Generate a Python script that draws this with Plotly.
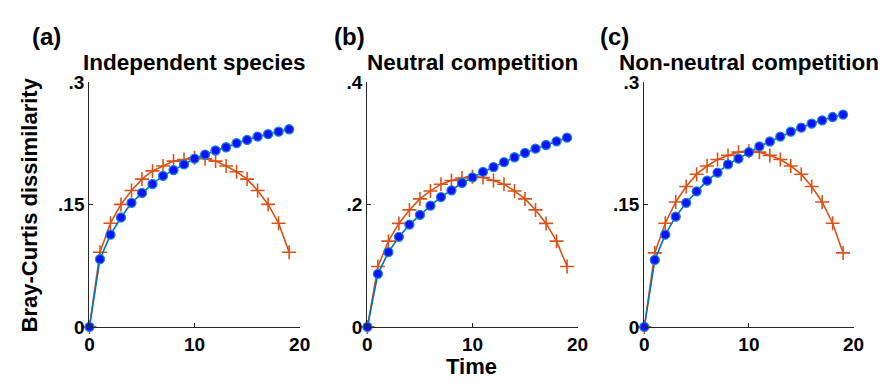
import plotly.graph_objects as go

time = list(range(20))

# Panel (a) Independent species
a_blue = [0, 0.083, 0.113, 0.134, 0.152, 0.164, 0.175, 0.185, 0.192, 0.199, 0.206,
          0.211, 0.216, 0.220, 0.225, 0.229, 0.233, 0.236, 0.239, 0.242]
a_orange = [0, 0.0915, 0.127, 0.150, 0.167, 0.181, 0.191, 0.197, 0.203, 0.205, 0.207,
            0.206, 0.203, 0.197, 0.190, 0.181, 0.167, 0.150, 0.127, 0.0915]

# Panel (b) Neutral competition
b_blue = [0, 0.0867, 0.122, 0.147, 0.167, 0.183, 0.198, 0.212, 0.223, 0.235, 0.244,
          0.253, 0.261, 0.269, 0.277, 0.284, 0.291, 0.297, 0.303, 0.309]
b_orange = [0, 0.0986, 0.140, 0.169, 0.191, 0.209, 0.222, 0.233, 0.239, 0.243, 0.245,
            0.244, 0.239, 0.233, 0.222, 0.209, 0.191, 0.169, 0.140, 0.0986]

# Panel (c) Non-neutral competition
c_blue = [0, 0.082, 0.113, 0.135, 0.152, 0.166, 0.179, 0.189, 0.199, 0.206, 0.214,
          0.221, 0.227, 0.233, 0.239, 0.244, 0.249, 0.253, 0.257, 0.260]
c_orange = [0, 0.0906, 0.127, 0.153, 0.172, 0.187, 0.197, 0.205, 0.210, 0.214, 0.215,
            0.214, 0.210, 0.205, 0.197, 0.187, 0.172, 0.153, 0.127, 0.0906]

titles = ["Independent species", "Neutral competition", "Non-neutral competition"]
labels = ["(a)", "(b)", "(c)"]
y_ranges = [0.3, 0.4, 0.3]
y_ticks = [[0, 0.15, 0.3], [0, 0.2, 0.4], [0, 0.15, 0.3]]
y_ticktext = [["0", ".15", ".3"], ["0", ".2", ".4"], ["0", ".15", ".3"]]
x_ticks = [0, 10, 20]

W, H = 893, 389
FONT = "Liberation Sans, Arial, sans-serif"
BLUE_LINE = "#0072BD"
BLUE_MARK = "#0a14f5"
BLUE_EDGE = "#1a7fd6"
ORANGE = "#D95319"
AX = "#262626"


def px(x):
    return x / W


def py(y):
    return 1 - y / H


x_px = [(86, 300), (369, 583), (651, 864)]
y_bot, y_top = 335, 76
ydom = [py(y_bot), py(y_top)]

fig = go.Figure()
series = [(a_blue, a_orange), (b_blue, b_orange), (c_blue, c_orange)]
for i, (bl, orr) in enumerate(series):
    xa = "x" if i == 0 else f"x{i+1}"
    ya = "y" if i == 0 else f"y{i+1}"
    fig.add_trace(go.Scatter(x=time, y=orr, xaxis=xa, yaxis=ya, mode="lines+markers",
                             line=dict(color=ORANGE, width=1.6),
                             marker=dict(symbol="cross-thin", size=10,
                                         line=dict(color=ORANGE, width=1.6)),
                             cliponaxis=False, showlegend=False, hoverinfo="skip"))
    fig.add_trace(go.Scatter(x=time, y=bl, xaxis=xa, yaxis=ya, mode="lines+markers",
                             line=dict(color=BLUE_LINE, width=1.6),
                             marker=dict(symbol="circle", size=9, color=BLUE_MARK,
                                         line=dict(color=BLUE_EDGE, width=1.3)),
                             cliponaxis=False, showlegend=False, hoverinfo="skip"))

layout = dict(width=W, height=H, margin=dict(l=0, r=0, t=0, b=0),
              paper_bgcolor="white", plot_bgcolor="white",
              font=dict(family=FONT, color="black"))
annotations = []
for i in range(3):
    suf = "" if i == 0 else str(i + 1)
    x0, x1 = x_px[i]
    tf = dict(family=FONT, size=19, color="black", weight="bold")
    layout["xaxis" + suf] = dict(domain=[px(x0), px(x1)], range=[0, 20], tickvals=x_ticks,
                                 showline=True, linecolor=AX, linewidth=1.2,
                                 ticks="inside", ticklen=4, tickcolor=AX, tickwidth=1,
                                 showgrid=False, zeroline=False,
                                 anchor="y" + suf, tickfont=tf)
    layout["yaxis" + suf] = dict(domain=ydom, range=[0, y_ranges[i]], tickvals=y_ticks[i],
                                 ticktext=y_ticktext[i],
                                 showline=True, linecolor=AX, linewidth=1.2,
                                 ticks="inside", ticklen=4, tickcolor=AX, tickwidth=1,
                                 showgrid=False, zeroline=False,
                                 anchor="x" + suf, tickfont=tf)
    cx = (x0 + x1) / 2
    annotations.append(dict(text="<b>%s</b>" % titles[i], x=px(cx), y=py(55),
                            xref="paper", yref="paper", showarrow=False,
                            xanchor="center", yanchor="middle", borderpad=0,
                            font=dict(family=FONT, size=22.5, color="black")))
lab_x = [42, 351, 621]
for i in range(3):
    annotations.append(dict(text="<b>%s</b>" % labels[i], x=px(lab_x[i]), y=py(28),
                            xref="paper", yref="paper", showarrow=False,
                            xanchor="center", yanchor="middle", borderpad=0,
                            font=dict(family=FONT, size=24, color="black")))
annotations.append(dict(text="<b>Bray-Curtis dissimilarity</b>", x=px(25), y=py(206),
                        xref="paper", yref="paper", showarrow=False, textangle=-90,
                        xanchor="center", yanchor="middle",
                        font=dict(family=FONT, size=22, color="black")))
annotations.append(dict(text="<b>Time</b>", x=px(475), y=py(377),
                        xref="paper", yref="paper", showarrow=False,
                        xanchor="center", yanchor="middle",
                        font=dict(family=FONT, size=22, color="black")))
layout["annotations"] = annotations
fig.update_layout(**layout)
fig.write_html("out.html", config={"displayModeBar": False, "staticPlot": True},
               post_script="document.body.style.margin='0';document.body.style.overflow='hidden';")
